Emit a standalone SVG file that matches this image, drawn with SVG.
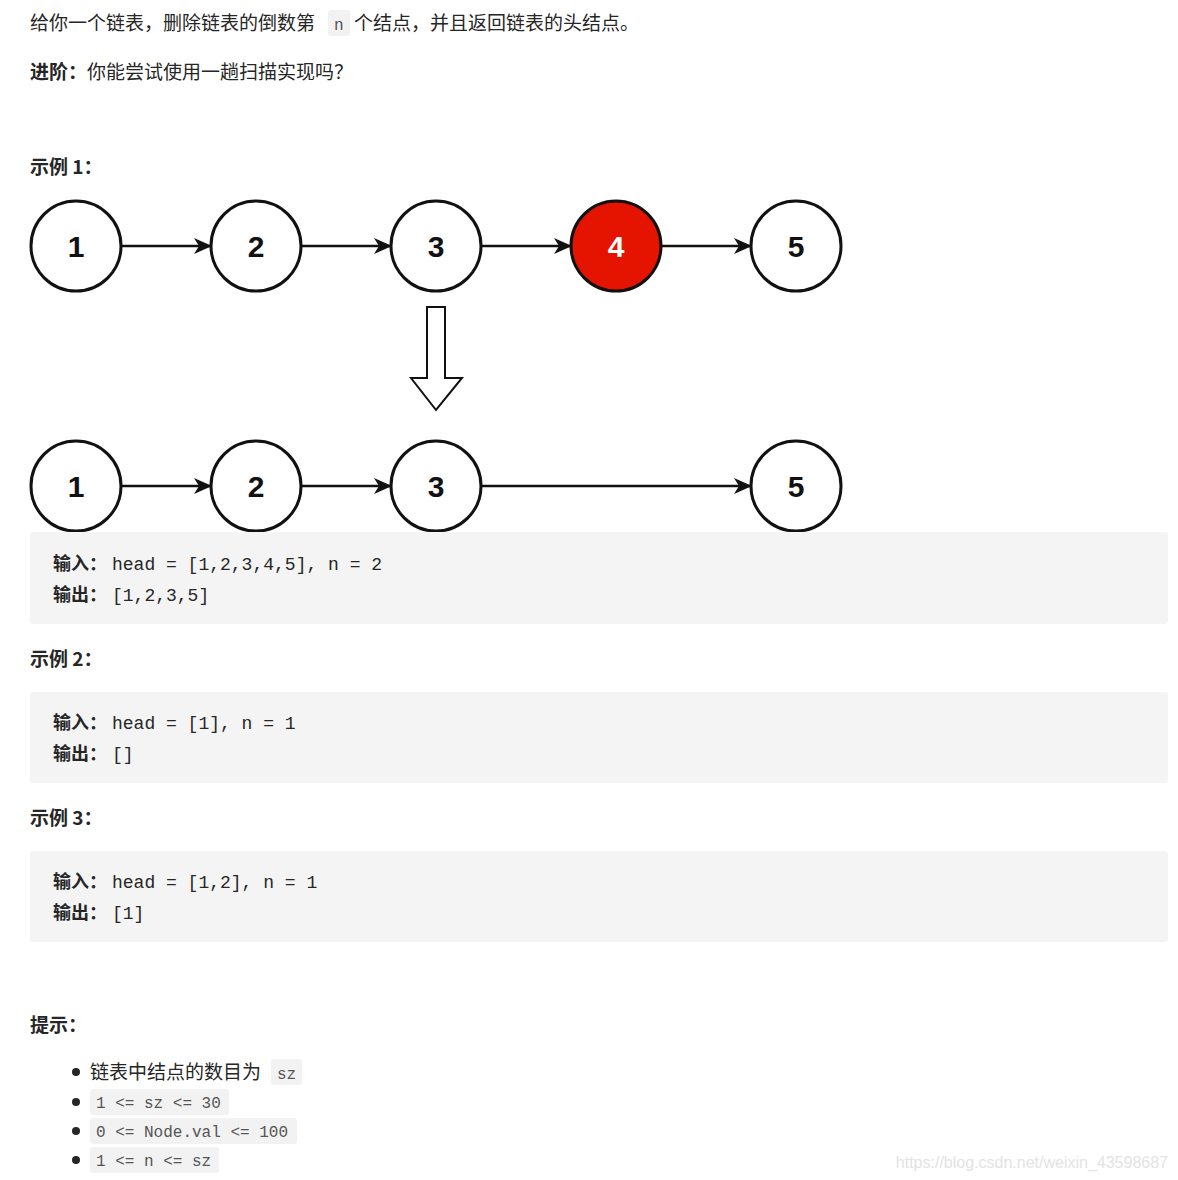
<svg xmlns="http://www.w3.org/2000/svg" width="1178" height="1180" viewBox="0 0 1178 1180">
<style>
.t{font-family:"Noto Sans CJK SC","Liberation Sans",sans-serif;font-size:19px;fill:#262626}
.b{font-weight:bold}
.c{font-family:"Liberation Mono","Noto Sans CJK SC",monospace;font-size:18px;fill:#262626}
.s{font-family:"Liberation Mono","Noto Sans CJK SC",monospace;font-size:16px;fill:#555}
.n{fill:#fff;stroke:#111;stroke-width:3}
.nl{font-family:"Liberation Sans",sans-serif;font-weight:bold;font-size:30px;fill:#111;text-anchor:middle}
.e{stroke:#111;stroke-width:2.5;fill:none;marker-end:url(#ah)}
.box{fill:#f4f4f4}
.ib{fill:#f2f2f2}
</style>
<defs><marker id="ah" markerWidth="18" markerHeight="16" refX="17" refY="8" orient="auto" markerUnits="userSpaceOnUse"><path d="M0,0L18,8L0,16L5,8z" fill="#111"/></marker></defs>
<rect width="1178" height="1180" fill="#fff"/>
<rect class="ib" x="328" y="10" width="22" height="26" rx="3"/>
<text class="t" x="30" y="30">给你一个链表，删除链表的倒数第</text>
<text class="s" x="334" y="30">n</text>
<text class="t" x="354" y="30">个结点，并且返回链表的头结点。</text>
<text class="t" x="30" y="79"><tspan class="b">进阶：</tspan>你能尝试使用一趟扫描实现吗？</text>
<text class="t b" x="30" y="174">示例 1：</text>
<g id="edges">
<line class="e" x1="121" y1="246" x2="211" y2="246"/>
<line class="e" x1="301" y1="246" x2="391" y2="246"/>
<line class="e" x1="481" y1="246" x2="571" y2="246"/>
<line class="e" x1="661" y1="246" x2="751" y2="246"/>
<line class="e" x1="121" y1="486" x2="211" y2="486"/>
<line class="e" x1="301" y1="486" x2="391" y2="486"/>
<line class="e" x1="481" y1="486" x2="751" y2="486"/>
<path d="M427,307H445V378H462L436,410L411,378H427Z" fill="#fff" stroke="#111" stroke-width="2"/>
</g>
<g id="a1"><circle class="n" cx="76" cy="246" r="45"/><text class="nl" x="76" y="257">1</text></g>
<g id="a2"><circle class="n" cx="256" cy="246" r="45"/><text class="nl" x="256" y="257">2</text></g>
<g id="a3"><circle class="n" cx="436" cy="246" r="45"/><text class="nl" x="436" y="257">3</text></g>
<g id="a4"><circle class="n" cx="616" cy="246" r="45" style="fill:#e51400"/><text class="nl" x="616" y="257" style="fill:#fff">4</text></g>
<g id="a5"><circle class="n" cx="796" cy="246" r="45"/><text class="nl" x="796" y="257">5</text></g>
<g id="b1"><circle class="n" cx="76" cy="486" r="45"/><text class="nl" x="76" y="497">1</text></g>
<g id="b2"><circle class="n" cx="256" cy="486" r="45"/><text class="nl" x="256" y="497">2</text></g>
<g id="b3"><circle class="n" cx="436" cy="486" r="45"/><text class="nl" x="436" y="497">3</text></g>
<g id="b5"><circle class="n" cx="796" cy="486" r="45"/><text class="nl" x="796" y="497">5</text></g>
<rect class="box" x="30" y="532" width="1138" height="92" rx="3"/>
<text class="c" x="53" y="570"><tspan class="b">输入：</tspan><tspan x="112">head = [1,2,3,4,5], n = 2</tspan></text>
<text class="c" x="53" y="601"><tspan class="b">输出：</tspan><tspan x="112">[1,2,3,5]</tspan></text>
<text class="t b" x="30" y="666">示例 2：</text>
<rect class="box" x="30" y="692" width="1138" height="91" rx="3"/>
<text class="c" x="53" y="729"><tspan class="b">输入：</tspan><tspan x="112">head = [1], n = 1</tspan></text>
<text class="c" x="53" y="760"><tspan class="b">输出：</tspan><tspan x="112">[]</tspan></text>
<text class="t b" x="30" y="825">示例 3：</text>
<rect class="box" x="30" y="851" width="1138" height="91" rx="3"/>
<text class="c" x="53" y="888"><tspan class="b">输入：</tspan><tspan x="112">head = [1,2], n = 1</tspan></text>
<text class="c" x="53" y="919"><tspan class="b">输出：</tspan><tspan x="112">[1]</tspan></text>
<text class="t b" x="30" y="1032">提示：</text>
<g fill="#262626"><circle cx="76" cy="1072" r="4"/><circle cx="76" cy="1102" r="4"/><circle cx="76" cy="1131" r="4"/><circle cx="76" cy="1160" r="4"/></g>
<text class="t" x="90" y="1079">链表中结点的数目为</text>
<rect class="ib" x="271" y="1059" width="31" height="26" rx="3"/><text class="s" x="277" y="1079">sz</text>
<rect class="ib" x="90" y="1089" width="139" height="26" rx="3"/><text class="s" x="96" y="1108" xml:space="preserve">1 &lt;= sz &lt;= 30</text>
<rect class="ib" x="90" y="1118" width="207" height="26" rx="3"/><text class="s" x="96" y="1137" xml:space="preserve">0 &lt;= Node.val &lt;= 100</text>
<rect class="ib" x="90" y="1147" width="129" height="26" rx="3"/><text class="s" x="96" y="1166" xml:space="preserve">1 &lt;= n &lt;= sz</text>
<text x="1168" y="1168" text-anchor="end" font-family="Liberation Sans,sans-serif" font-size="16" fill="#e3e3e3">https://blog.csdn.net/weixin_43598687</text>
</svg>
